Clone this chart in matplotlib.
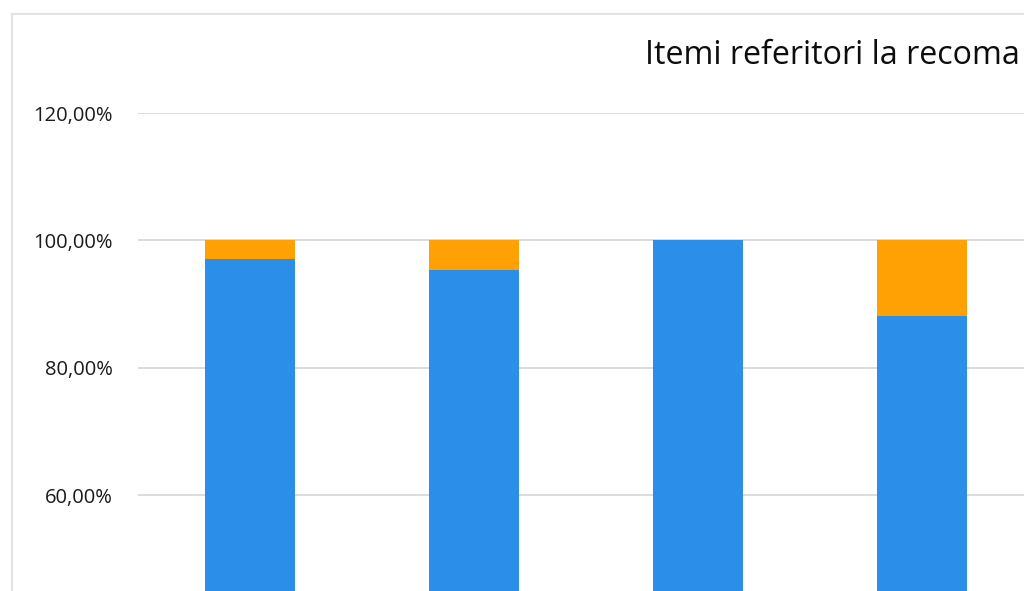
import matplotlib
matplotlib.use("Agg")
import matplotlib.pyplot as plt
import matplotlib.patches as mpatches
from matplotlib.ticker import FuncFormatter

categories = ["Item 1", "Item 2", "Item 3", "Item 4"]
da = [97.0, 95.3, 100.0, 88.1]      # blue series
nu = [3.0, 4.7, 0.0, 11.9]          # orange series
y_ticks = [60, 80, 100, 120]        # lower ticks fall outside the crop

blue = "#2b8fea"
orange = "#ffa005"
grid_col = "#dcdcdc"


def pct(v, pos):
    return ("%.2f%%" % v).replace(".", ",")


def main():
    fig = plt.figure(figsize=(10.24, 5.91), dpi=100)
    W, H = 1024.0, 591.0

    # chart border (only top and left are visible in the crop)
    border = mpatches.Rectangle((12 / W, -1.0), 2.0, (591 - 14) / H + 1.0,
                                transform=fig.transFigure, fill=False,
                                ec="#e3e3e3", lw=1.5)
    fig.patches.append(border)

    # plot area: left edge at 138px, 224px per category, 120% at y=113, 0% at y=877
    ax = fig.add_axes([138 / W, (H - 877) / H, 5 * 224 / W, (877 - 113) / H])

    x = list(range(len(categories)))
    ax.bar(x, da, width=0.40, color=blue, zorder=3)
    ax.bar(x, nu, width=0.40, bottom=da, color=orange, zorder=3)

    ax.set_xlim(-0.5, 4.5)
    ax.set_ylim(0, 120)
    ax.set_yticks(y_ticks)
    ax.yaxis.set_major_formatter(FuncFormatter(pct))
    ax.set_xticks([])
    ax.grid(axis="y", color=grid_col, lw=1.4, zorder=0)
    for s in ax.spines.values():
        s.set_visible(False)
    ax.tick_params(axis="y", length=0, pad=18, labelsize=14.5, labelcolor="#1a1a1a")
    for lab in ax.get_yticklabels():
        lab.set_family("Open Sans")

    fig.text(645 / W, (H - 56) / H, "Itemi referitori la recoma",
             fontsize=23.2, family="Open Sans", color="#0d0d0d",
             ha="left", va="center")

    fig.savefig("out.png", dpi=100)


if __name__ == "__main__":
    main()
